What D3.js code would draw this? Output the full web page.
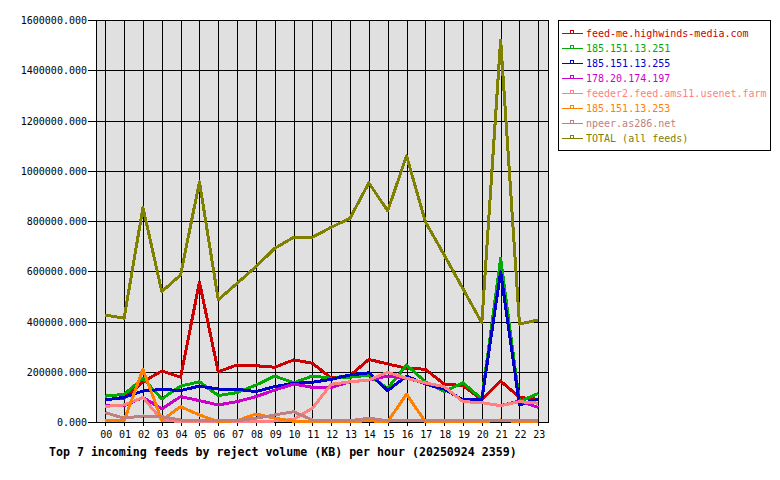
<!DOCTYPE html>
<html lang="en">
<head>
<meta charset="utf-8">
<title>reject volume</title>
<script src="https://cdn.jsdelivr.net/npm/d3@7/dist/d3.min.js"></script>
<style>
  body { margin: 0; background: #fff; }
  text { font-family: "DejaVu Sans Mono", monospace; }
</style>
</head>
<body>
<svg width="780" height="480"></svg>
<script>
// hours on the x axis
var hours = ['00','01','02','03','04','05','06','07','08','09','10','11',
             '12','13','14','15','16','17','18','19','20','21','22','23'];

var feedNames = ['feed-me.highwinds-media.com', '185.151.13.251', '185.151.13.255',
                 '178.20.174.197', 'feeder2.feed.ams11.usenet.farm', '185.151.13.253',
                 'npeer.as286.net', 'TOTAL (all feeds)'];
var feedColors = ['#cc0000', '#00aa00', '#0000cc', '#cc00cc', '#ff8080', '#ff8000', '#c08080', '#808000'];

// KB per hour
var feedMe   = [90000, 94000, 160000, 203000, 178000, 557000, 200000, 227000, 224000, 218000, 247000, 234000,
                175000, 185000, 249000, 231000, 214000, 210000, 151000, 145000, 88000, 163000, 98000, 90000];
var f251     = [103000, 110000, 174000, 92000, 143000, 160000, 105000, 117000, 147000, 183000, 156000, 183000,
                174000, 178000, 187000, 134000, 227000, 160000, 121000, 156000, 92000, 651000, 81000, 114000];
var f255     = [88000, 98000, 123000, 130000, 125000, 143000, 131000, 130000, 121000, 141000, 154000, 158000,
                170000, 187000, 196000, 125000, 183000, 151000, 131000, 88000, 88000, 598000, 68000, 92000];
var f197     = [65000, 65000, 98000, 52000, 101000, 85000, 68000, 81000, 101000, 127000, 151000, 138000,
                138000, 160000, 167000, 183000, 174000, 154000, 141000, 81000, 77000, 65000, 84000, 58000];
var feeder2  = [62000, 68000, 98000, 8000, 2000, 1000, 1000, 1000, 2000, 4000, 10000, 55000,
                150000, 160000, 167000, 198000, 174000, 156000, 141000, 81000, 77000, 65000, 81000, 75000];
var f253     = [7000, 6000, 210000, 7000, 61000, 28000, 1000, 5000, 32000, 15000, 3000, 1000,
                1000, 2000, 5000, 1000, 111000, 1000, 1000, 1000, 1000, 8000, 1000, 1000];
var npeer    = [37000, 15000, 24000, 21000, 8000, 4000, 4000, 5000, 15000, 28000, 41000, 8000,
                5000, 5000, 15000, 5000, 5000, 5000, 5000, 5000, 5000, 5000, 5000, 8000];
var total    = [426000, 413000, 854000, 519000, 585000, 956000, 486000, 552000, 618000, 691000, 735000, 735000,
                775000, 811000, 952000, 840000, 1059000, 797000, 665000, 530000, 395000, 1520000, 390000, 406000];

var yTicks = [0, 200000, 400000, 600000, 800000, 1000000, 1200000, 1400000, 1600000];

var series = [feedMe, f251, f255, f197, feeder2, f253, npeer, total];

var svg = d3.select('svg');
var plotL = 96, plotR = 548, plotT = 20, plotB = 422;

var x = d3.scalePoint().domain(hours).range([105.3, 538.3]);
var y = d3.scaleLinear().domain([0, 1600000]).range([plotB, plotT]);

svg.append('rect')
    .attr('x', plotL + 0.5).attr('y', plotT + 0.5)
    .attr('width', plotR - plotL).attr('height', plotB - plotT)
    .style('fill', '#e0e0e0');

// grid lines
svg.append('g').selectAll('line')
    .data(hours).enter().append('line')
    .attr('x1', d => Math.round(x(d)) + 0.5).attr('x2', d => Math.round(x(d)) + 0.5)
    .attr('y1', plotT).attr('y2', plotB + 4)
    .style('stroke', '#000').style('shape-rendering', 'crispEdges');

svg.append('g').selectAll('line')
    .data(yTicks).enter().append('line')
    .attr('x1', plotL - 8).attr('x2', plotR)
    .attr('y1', d => Math.round(y(d)) + 0.5).attr('y2', d => Math.round(y(d)) + 0.5)
    .style('stroke', '#000').style('shape-rendering', 'crispEdges');

svg.append('rect')
    .attr('x', plotL + 0.5).attr('y', plotT + 0.5)
    .attr('width', plotR - plotL).attr('height', plotB - plotT)
    .style('fill', 'none').style('stroke', '#000').style('shape-rendering', 'crispEdges');

// axis labels
svg.append('g').selectAll('text')
    .data(yTicks).enter().append('text')
    .attr('x', 87).attr('y', d => y(d) + 4)
    .attr('text-anchor', 'end')
    .style('font-size', '10px')
    .text(d => d3.format('.3f')(d));

svg.append('g').selectAll('text')
    .data(hours).enter().append('text')
    .attr('x', d => x(d) + 1).attr('y', 438)
    .attr('text-anchor', 'middle')
    .style('font-size', '10px')
    .text(d => d);

svg.append('text')
    .attr('x', 49).attr('y', 456)
    .style('font-size', '11.6px').style('font-weight', 'bold')
    .text('Top 7 incoming feeds by reject volume (KB) per hour (20250924 2359)');

// lines
var line = d3.line().x((d, i) => x(hours[i])).y(d => y(d));

svg.append('g').selectAll('path')
    .data(series).enter().append('path')
    .attr('d', d => line(d))
    .style('fill', 'none')
    .style('stroke', (d, i) => feedColors[i])
    .style('stroke-width', 3)
    .style('stroke-linejoin', 'round')
    .style('shape-rendering', 'crispEdges');

// legend
var lg = svg.append('g');
lg.append('rect')
    .attr('x', 558.5).attr('y', 20.5).attr('width', 212).attr('height', 130)
    .style('fill', '#fff').style('stroke', '#000').style('shape-rendering', 'crispEdges');

var rows = lg.selectAll('g.row')
    .data(feedNames).enter().append('g')
    .attr('transform', (d, i) => 'translate(0,' + (33 + i * 15) + ')');

rows.append('line')
    .attr('x1', 562).attr('x2', 583).attr('y1', 0.5).attr('y2', 0.5)
    .style('stroke', (d, i) => feedColors[i]).style('shape-rendering', 'crispEdges');
rows.append('rect')
    .attr('x', 570.5).attr('y', -2.5).attr('width', 3).attr('height', 3)
    .style('fill', 'none').style('stroke', (d, i) => feedColors[i]).style('shape-rendering', 'crispEdges');
rows.append('text')
    .attr('x', 586).attr('y', 4)
    .style('font-size', '10px')
    .style('fill', (d, i) => feedColors[i])
    .text(d => d);
</script>
</body>
</html>
